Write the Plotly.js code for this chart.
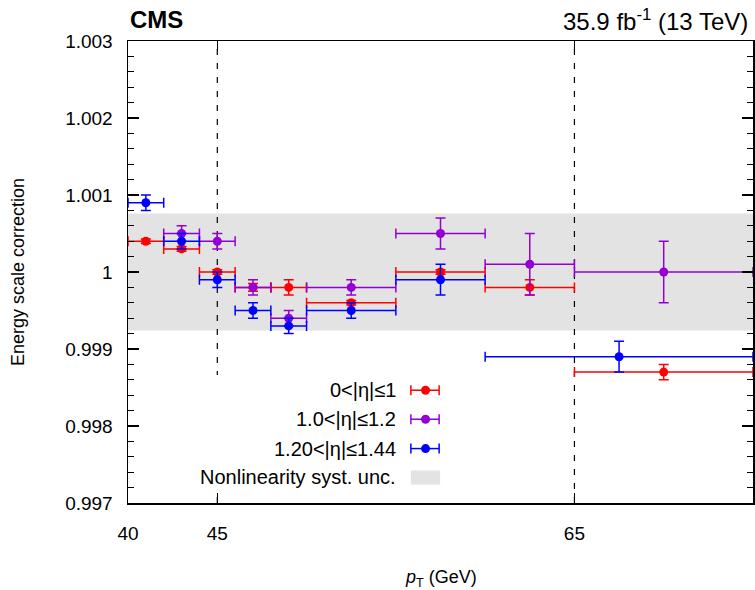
<!DOCTYPE html>
<html>
<head>
<meta charset="utf-8">
<script src="https://cdn.plot.ly/plotly-3.0.1.min.js"></script>
<style>html,body{margin:0;padding:0;background:#fff;}#chart{width:755px;height:590px;}</style>
</head>
<body>
<div id="chart"></div>
<script>
// ---- data ----
const seriesNames = ["0<|η|≤1", "1.0<|η|≤1.2", "1.20<|η|≤1.44"];

const redX    = [41, 43, 45, 47, 49, 52.5, 57.5, 62.5, 70];
const redLo   = [40, 42, 44, 46, 48, 50, 55, 60, 65];
const redHi   = [42, 44, 46, 48, 50, 55, 60, 65, 75];
const redY    = [1.0004, 1.0003, 1.0000, 0.9998, 0.9998, 0.9996, 1.0000, 0.9998, 0.9987];
const redErr  = [0.00003, 0.00003, 0.00003, 0.00005, 0.0001, 0.00003, 0.00003, 0.0001, 0.0001];

const purX    = [43, 45, 47, 49, 52.5, 57.5, 62.5, 70];
const purLo   = [42, 44, 46, 48, 50, 55, 60, 65];
const purHi   = [44, 46, 48, 50, 55, 60, 65, 75];
const purY    = [1.0005, 1.0004, 0.9998, 0.9994, 0.9998, 1.0005, 1.0001, 1.0000];
const purErr  = [0.0001, 0.0001, 0.0001, 0.0001, 0.0001, 0.0002, 0.0004, 0.0004];

const bluX    = [41, 43, 45, 47, 49, 52.5, 57.5, 67.5];
const bluLo   = [40, 42, 44, 46, 48, 50, 55, 60];
const bluHi   = [42, 44, 46, 48, 50, 55, 60, 75];
const bluY    = [1.0009, 1.0004, 0.9999, 0.9995, 0.9993, 0.9995, 0.9999, 0.9989];
const bluErr  = [0.0001, 0.0001, 0.0001, 0.0001, 0.0001, 0.0001, 0.0002, 0.0002];

const bandLow = 0.99924, bandHigh = 1.00076;
const dashedX = [45, 65];
const xTickVals = [40, 45, 65];
const yTickVals = [0.997, 0.998, 0.999, 1.000, 1.001, 1.002, 1.003];
const yTickText = ["0.997", "0.998", "0.999", "1", "1.001", "1.002", "1.003"];

const colors = ["#ff0000", "#9400d3", "#0000ff"];
const FONT = "Liberation Sans, Arial, Helvetica, sans-serif";

function mk(x, lo, hi, y, err, color, name) {
  return {
    type: "scatter", mode: "markers", name: name, showlegend: false,
    x: x, y: y,
    marker: {color: color, size: 9},
    error_x: {type: "data", symmetric: false,
      array: x.map((v, i) => hi[i] - v), arrayminus: x.map((v, i) => v - lo[i]),
      color: color, thickness: 1.5, width: 5},
    error_y: {type: "data", array: err, color: color, thickness: 1.5, width: 5},
    cliponaxis: true
  };
}

const traces = [
  mk(redX, redLo, redHi, redY, redErr, colors[0], seriesNames[0]),
  mk(purX, purLo, purHi, purY, purErr, colors[1], seriesNames[1]),
  mk(bluX, bluLo, bluHi, bluY, bluErr, colors[2], seriesNames[2])
];

const shapes = [];
shapes.push({type: "rect", layer: "below", xref: "paper", yref: "y", x0: 0, x1: 1, y0: bandLow, y1: bandHigh,
  fillcolor: "#e3e3e3", line: {width: 0}});
dashedX.forEach(v => shapes.push({type: "line", layer: "below", xref: "x", yref: "paper", x0: v, x1: v, y0: 0, y1: 1,
  line: {color: "#000", width: 1.2, dash: "6px,8px"}}));
// legend background
shapes.push({type: "rect", layer: "below", xref: "paper", yref: "paper", x0: 0.099, x1: 0.507, y0: 0.025, y1: 0.277,
  fillcolor: "#fff", line: {width: 0}});

// legend
const legY = [0.2441, 0.1813, 0.1178];
const legTextX = 0.4323, legX0 = 0.4526, legX1 = 0.4978, legXc = 0.4761;
const annotations = [];
legY.forEach((ly, i) => {
  annotations.push({xref: "paper", yref: "paper", x: legTextX, y: ly, xanchor: "right", yanchor: "middle",
    text: seriesNames[i], showarrow: false, font: {family: FONT, size: 20, color: "#000"}});
  shapes.push({type: "line", layer: "above", xref: "paper", yref: "paper", x0: legX0, x1: legX1, y0: ly, y1: ly,
    line: {color: colors[i], width: 1.5}});
  [legX0, legX1].forEach(xx => shapes.push({type: "line", layer: "above", xref: "paper", yref: "paper",
    ysizemode: "pixel", yanchor: ly, x0: xx, x1: xx, y0: -5, y1: 5, line: {color: colors[i], width: 1.5}}));
  shapes.push({type: "circle", layer: "above", xref: "paper", yref: "paper", xsizemode: "pixel", ysizemode: "pixel",
    xanchor: legXc, yanchor: ly, x0: -4.5, x1: 4.5, y0: -4.5, y1: 4.5, fillcolor: colors[i], line: {width: 0}});
});
annotations.push({xref: "paper", yref: "paper", x: legTextX, y: 0.0563, xanchor: "right", yanchor: "middle",
  text: "Nonlinearity syst. unc.", showarrow: false, font: {family: FONT, size: 20, color: "#000"}});
shapes.push({type: "rect", layer: "above", xref: "paper", yref: "paper", x0: 0.4526, x1: 0.4994, y0: 0.0399, y1: 0.0704,
  fillcolor: "#e3e3e3", line: {width: 0}});

// titles
annotations.push({xref: "paper", yref: "paper", x: 0, y: 1.0455, xanchor: "left", yanchor: "middle",
  text: "<b>CMS</b>", showarrow: false, font: {family: FONT, size: 24, color: "#000"}});
annotations.push({xref: "paper", yref: "paper", x: 0.9947, y: 1.0455, xanchor: "right", yanchor: "middle",
  text: "35.9 fb<sup>-1</sup> (13 TeV)", showarrow: false, font: {family: FONT, size: 24, color: "#000"}});
annotations.push({xref: "paper", yref: "paper", x: 0.5, y: -0.163, xanchor: "center", yanchor: "middle",
  text: "<i>p</i><sub>T</sub> (GeV)", showarrow: false, font: {family: FONT, size: 18, color: "#000"}});
annotations.push({xref: "paper", yref: "paper", x: -0.1759, y: 0.5, xanchor: "center", yanchor: "middle",
  textangle: -90, text: "Energy scale correction", showarrow: false, font: {family: FONT, size: 18, color: "#000"}});

const layout = {
  width: 755, height: 590,
  margin: {l: 128, r: 2, t: 41, b: 87, pad: 0},
  paper_bgcolor: "#fff", plot_bgcolor: "#fff",
  font: {family: FONT, size: 19, color: "#000"},
  xaxis: {range: [40, 75], tickmode: "array", tickvals: xTickVals, ticks: "inside", ticklen: 10, tickwidth: 1.2,
    tickcolor: "#000", showline: true, linecolor: "#000", linewidth: 1.5, mirror: "allticks",
    showgrid: false, zeroline: false, ticklabelstandoff: 13, tickfont: {size: 19}},
  yaxis: {range: [0.997, 1.003], tickmode: "array", tickvals: yTickVals, ticktext: yTickText, ticks: "inside",
    ticklen: 11, tickwidth: 1.2, tickcolor: "#000", showline: true, linecolor: "#000", linewidth: 1.5,
    mirror: "allticks", showgrid: false, zeroline: false, ticklabelstandoff: 10, tickfont: {size: 19},
    minor: {tickmode: "linear", tick0: 0.997, dtick: 0.0002, ticks: "inside", ticklen: 6, tickwidth: 1.2,
      tickcolor: "#000", showgrid: false}},
  shapes: shapes,
  annotations: annotations
};

Plotly.newPlot("chart", traces, layout, {displayModeBar: false, staticPlot: true});
</script>
</body>
</html>
